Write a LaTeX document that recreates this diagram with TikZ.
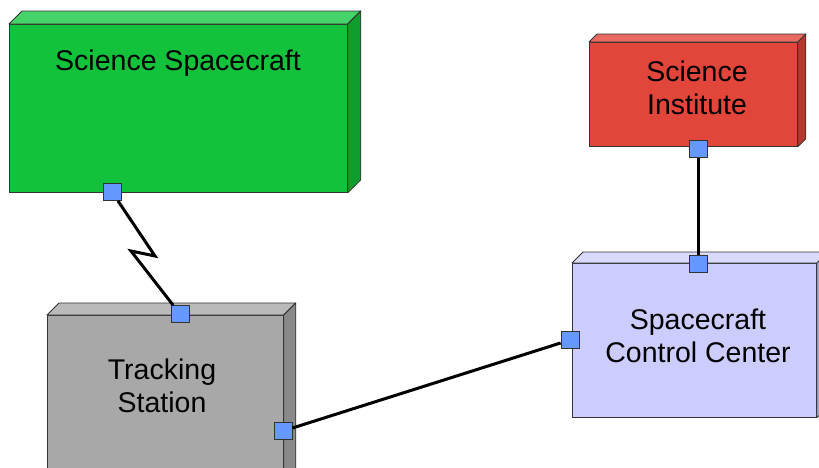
\documentclass[tikz,border=0pt]{standalone}
\usepackage{fontspec}
\setmainfont{Liberation Sans}
\usepackage{tikz}
\usetikzlibrary{positioning}

\definecolor{craftgreen}{HTML}{12C23A}
\definecolor{crafttop}{HTML}{46D36A}
\definecolor{craftside}{HTML}{0E9E2D}
\definecolor{instred}{HTML}{E2453A}
\definecolor{insttop}{HTML}{E96A60}
\definecolor{instside}{HTML}{B5372E}
\definecolor{stationgray}{HTML}{A8A8A8}
\definecolor{stationtop}{HTML}{BABABA}
\definecolor{stationside}{HTML}{898989}
\definecolor{ctrlblue}{HTML}{CCCCFF}
\definecolor{ctrltop}{HTML}{DADAFF}
\definecolor{ctrlside}{HTML}{A3A3CC}
\definecolor{portblue}{HTML}{6699FF}

% top and right faces of a box node: name, depth, top colour, side colour
\newcommand{\boxfaces}[4]{%
  \filldraw[fill=#3, draw=black!80, line width=0.8pt, line join=round]
    (#1.north west) -- ++(#2,-#2) -- ([shift={(#2,-#2)}]#1.north east) -- (#1.north east) -- cycle;
  \filldraw[fill=#4, draw=black!80, line width=0.8pt, line join=round]
    (#1.north east) -- ++(#2,-#2) -- ([shift={(#2,-#2)}]#1.south east) -- (#1.south east) -- cycle;
}

\begin{document}
\begin{tikzpicture}[
    x=1pt, y=-1pt,
    block/.style={rectangle, draw=black!80, line width=0.8pt, inner sep=0pt,
                 anchor=north west},
    caption/.style={font=\fontsize{28.5}{33}\selectfont, align=center,
                 inner sep=0pt},
    port/.style={rectangle, draw=black!80, fill=portblue, line width=0.8pt,
                 minimum width=18pt, minimum height=17pt, inner sep=0pt},
    link/.style={line width=3pt, black}
  ]
  \useasboundingbox (0,0) rectangle (819,467);
  \clip (0,0) rectangle (819,467);

  % boxes
  \node[block, fill=craftgreen, minimum width=338pt, minimum height=168pt] (craft) at (9,24) {};
  \boxfaces{craft}{13}{crafttop}{craftside}
  \node[block, fill=instred, minimum width=208pt, minimum height=104pt] (inst) at (589,42) {};
  \boxfaces{inst}{8}{insttop}{instside}
  \node[block, fill=stationgray, minimum width=236pt, minimum height=180pt] (station) at (47,315) {};
  \boxfaces{station}{12}{stationtop}{stationside}
  \node[block, fill=ctrlblue, minimum width=244pt, minimum height=154pt] (ctrl) at (572,263) {};
  \boxfaces{ctrl}{11}{ctrltop}{ctrlside}

  % captions
  \node[caption] (crafttext) at (178,63) {Science Spacecraft};
  \node[caption] (insttext) at (697,88) {Science\\Institute};
  \node[caption] (stationtext) at (162,386) {Tracking\\Station};
  \node[caption] (ctrltext) at (698,336) {Spacecraft\\Control Center};

  % ports
  \node[port] (craftport) at (112,192) {};
  \node[port] (stationtop) at (180,314) {};
  \node[port] (stationright) at (283,431) {};
  \node[port] (ctrlleft) at (570,340) {};
  \node[port] (ctrltop) at (698,264) {};
  \node[port] (instport) at (698,149) {};

  \coordinate (kinkA) at (155,256);
  \coordinate (kinkB) at (131,251);

  \draw[link] (craftport) -- (kinkA) -- (kinkB) -- (stationtop);
  \draw[link] (stationright) -- (ctrlleft);
  \draw[link] (instport) -- (ctrltop);

\end{tikzpicture}
\end{document}
